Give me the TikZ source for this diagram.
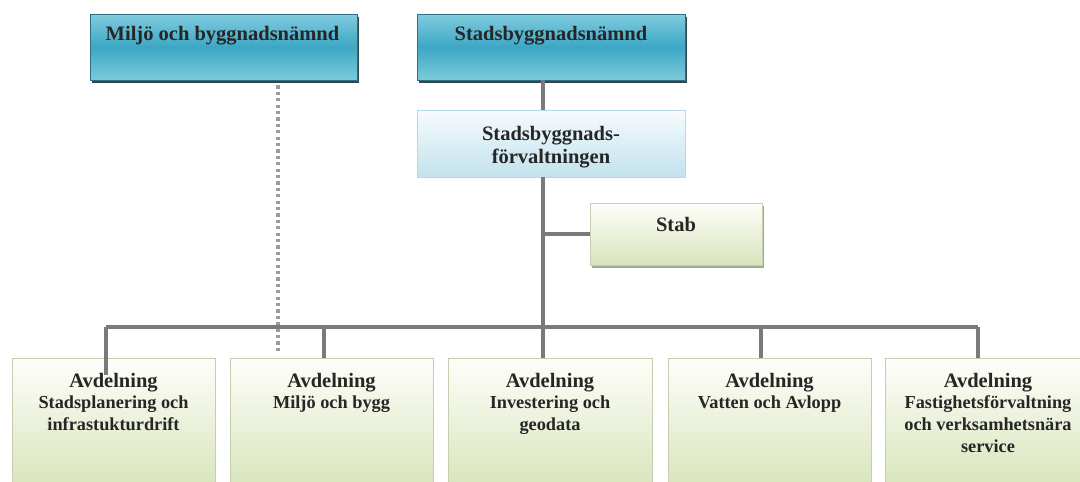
\documentclass[tikz,border=0pt]{standalone}
\usepackage{fontspec}
\setmainfont{Liberation Serif}
\definecolor{bluetop}{HTML}{80CCDE}
\definecolor{bluemid}{HTML}{3DA7C5}
\definecolor{bluebot}{HTML}{7CCADB}
\definecolor{blueedge}{HTML}{2F6E82}
\definecolor{blueshadow}{HTML}{34474E}
\definecolor{lbtop}{HTML}{F6FBFD}
\definecolor{lbbot}{HTML}{C2E2ED}
\definecolor{lbedge}{HTML}{B5D9E6}
\definecolor{grtop}{HTML}{FEFEFA}
\definecolor{grbot}{HTML}{D7E4BA}
\definecolor{gredge}{HTML}{C5CEB0}
\definecolor{grshadow}{HTML}{A3A893}
\definecolor{linegray}{HTML}{7A7A7A}
\definecolor{dotgray}{HTML}{9C9C9C}
\definecolor{txt}{HTML}{262626}
\begin{document}
\begin{tikzpicture}[x=1pt,y=-1pt,
  boardbox/.style={rectangle, inner sep=0pt, draw=blueedge, line width=0.8pt,
    top color=bluetop, bottom color=bluebot, middle color=bluemid,
    preaction={fill=blueshadow, transform canvas={shift={(2pt,-2.5pt)}}}},
  officebox/.style={rectangle, inner sep=0pt, draw=lbedge, line width=0.8pt,
    top color=lbtop, bottom color=lbbot},
  unitbox/.style={rectangle, inner sep=0pt, draw=gredge, line width=0.8pt,
    top color=grtop, bottom color=grbot},
  stabbox/.style={unitbox, preaction={fill=grshadow, transform canvas={shift={(1.5pt,-2.5pt)}}}},
  ttl/.style={anchor=base, inner sep=0pt, text=txt, font=\bfseries\fontsize{20.5}{23}\selectfont, align=center},
  sub/.style={anchor=base, inner sep=0pt, text=txt, font=\bfseries\fontsize{18.3}{21.8}\selectfont, align=center},
  conn/.style={draw=linegray, line width=3.1pt},
  dotconn/.style={draw=dotgray, line width=3.4pt, dash pattern=on 3.2pt off 3.2pt}
]
\useasboundingbox (0,0) rectangle (1080,482);
\clip (0,0) rectangle (1080,482);
\fill[white] (0,0) rectangle (1080,482);

% trunk and bus coordinates
\coordinate (tx) at (543,0);
\coordinate (d1) at (106,327);
\coordinate (d2) at (324,327);
\coordinate (d3) at (543,327);
\coordinate (d4) at (761,327);
\coordinate (d5) at (978,327);
\coordinate (e1) at (106,375);
\coordinate (dx) at (278,0);
\coordinate (dotend) at (278,353);

% connectors under the boxes
\draw[conn] (d1) -- (d5);
\draw[conn] (d5) -- ++(0,31);

% boxes
\node[boardbox, minimum width=267pt, minimum height=66pt] (mb) at (223.5,47) {};
\node[boardbox, minimum width=268pt, minimum height=66pt] (sn) at (551,47) {};
\node[officebox, minimum width=268pt, minimum height=67pt] (sf) at (551,143.5) {};
\node[stabbox, minimum width=172pt, minimum height=62pt] (stab) at (676,234) {};

\node[unitbox, minimum width=203pt, minimum height=132pt] (b1) at (113.5,424) {};
\node[unitbox, minimum width=203pt, minimum height=132pt] (b2) at (331.5,424) {};
\node[unitbox, minimum width=204pt, minimum height=132pt] (b3) at (550,424) {};
\node[unitbox, minimum width=203pt, minimum height=132pt] (b4) at (769.5,424) {};
\node[unitbox, minimum width=203pt, minimum height=132pt] (b5) at (986.5,424) {};

% connectors
\draw[conn] (sn.south -| tx) -- (sf.north -| tx);
\draw[conn] (sf.south -| tx) -- (d3) -- (b3.north -| tx);
\draw[conn] (stab.west) -- (stab.west -| tx);
\draw[conn] (d1) -- (e1);
\draw[conn] (d2) -- (b2.north -| d2);
\draw[conn] (d4) -- (b4.north -| d4);
\draw[conn] (d5) -- (b5.north -| d5);
\draw[dotconn] (mb.south -| dx) ++(0,5) -- (dotend);

% texts (base anchor = baseline of last line)
\node[ttl] (mbt) at (222.5,40) {Miljö och byggnadsnämnd};
\node[ttl] (snt) at (551,40) {Stadsbyggnadsnämnd};
\node[ttl] (sft) at (551,163) {Stadsbyggnads-\\förvaltningen};
\node[ttl] (stabt) at (676,231) {Stab};

\node[ttl] (a1) at (113.5,387) {Avdelning};
\node[sub] (s1) at (113.5,430) {Stadsplanering och\\infrastukturdrift};
\node[ttl] (a2) at (331.5,387) {Avdelning};
\node[sub] (s2) at (331.5,408) {Miljö och bygg};
\node[ttl] (a3) at (550,387) {Avdelning};
\node[sub] (s3) at (550,430) {Investering och\\geodata};
\node[ttl] (a4) at (769.5,387) {Avdelning};
\node[sub] (s4) at (769.5,408) {Vatten och Avlopp};
\node[ttl] (a5) at (988,387) {Avdelning};
\node[sub] (s5) at (988,452) {Fastighetsförvaltning\\och verksamhetsnära\\service};
\end{tikzpicture}
\end{document}
